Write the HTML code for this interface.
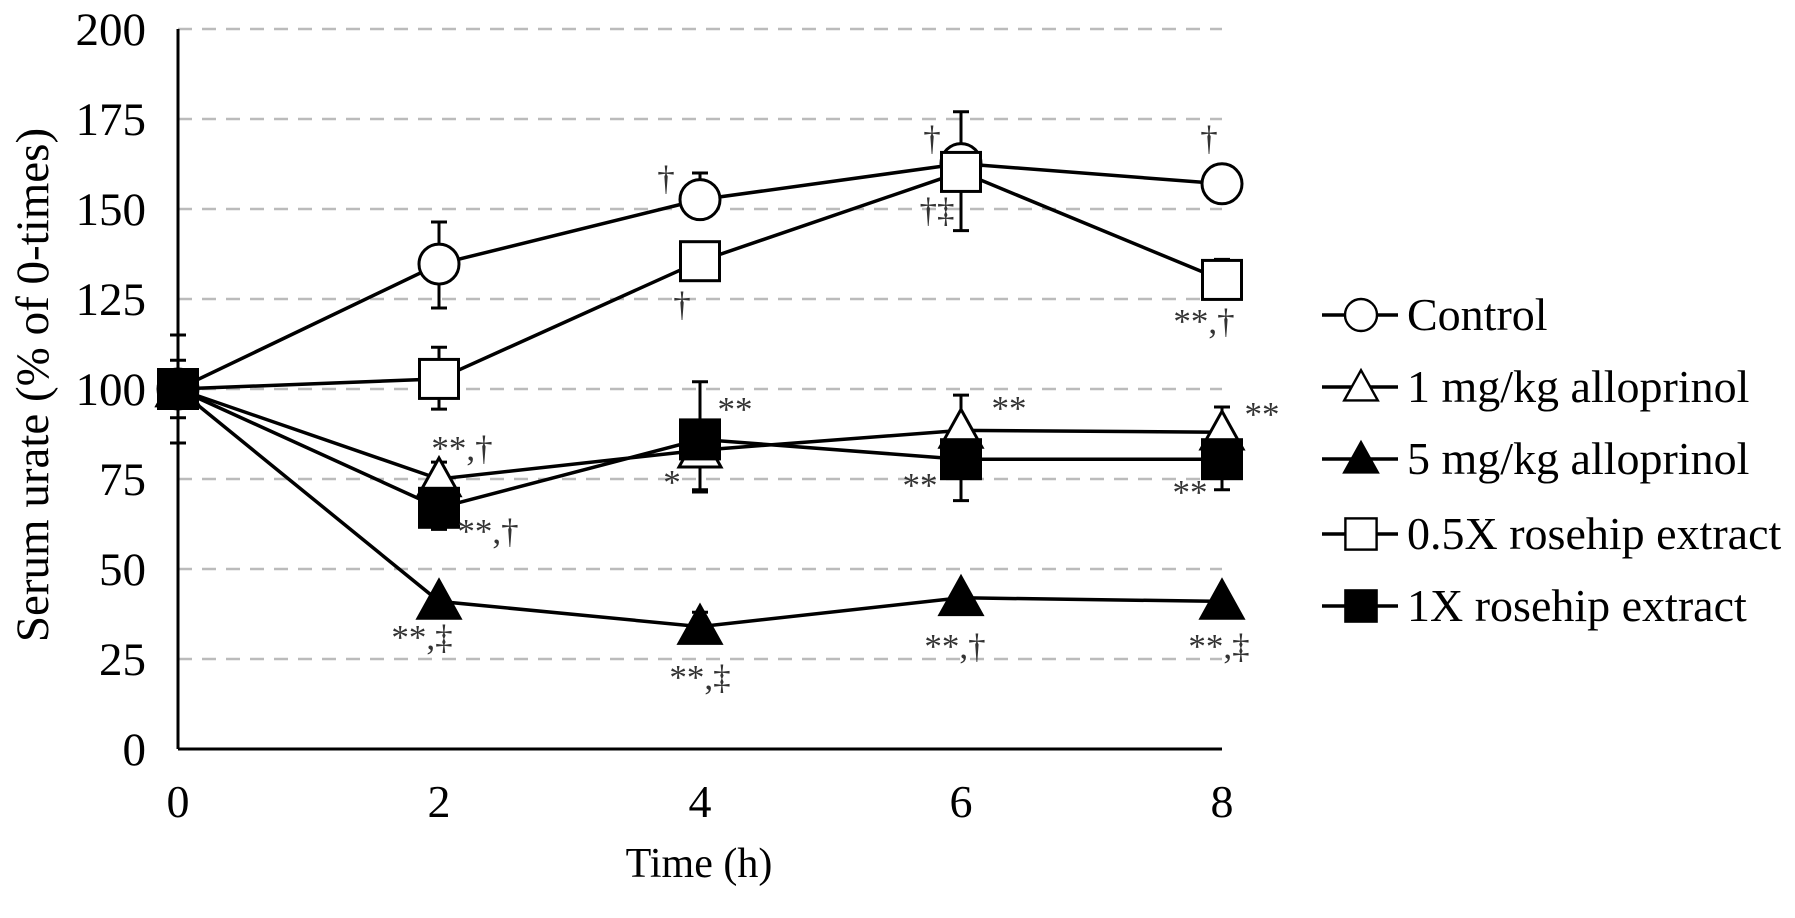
<!DOCTYPE html>
<html><head><meta charset="utf-8"><style>
html,body{margin:0;padding:0;background:#fff;}
svg{display:block;font-family:"Liberation Serif",serif;}
</style></head><body>
<svg id="chart" width="1795" height="918" viewBox="0 0 1795 918" xmlns="http://www.w3.org/2000/svg">
<g id="grid"></g>
<g id="axes"></g>
<g id="series"></g>
<g id="notes" font-size="35" fill="#333" text-anchor="middle"></g>
<g id="legend"></g>
<text x="699" y="877" font-size="42" text-anchor="middle">Time (h)</text>
<text transform="translate(48,385) rotate(-90)" font-size="47" text-anchor="middle">Serum urate (% of 0-times)</text>
</svg>
<script>
const times = [0, 2, 4, 6, 8];
const yTicks = [0, 25, 50, 75, 100, 125, 150, 175, 200];
const xTicks = [0, 2, 4, 6, 8];
const seriesNames = ["Control", "1 mg/kg alloprinol", "5 mg/kg alloprinol", "0.5X rosehip extract", "1X rosehip extract"];
const markers = ["circle", "tri-open", "tri-fill", "sq-open", "sq-fill"];
const controlVals = [100, 134.7, 152.6, 162.6, 157];
const allo1Vals = [100, 75, 83, 88.5, 88];
const allo5Vals = [100, 41, 34, 42, 41];
const rose05Vals = [100, 102.8, 135.5, 160.3, 130.3];
const rose1Vals = [100, 67, 86, 80.5, 80.5];
const controlErrUp = [115, 146.4, 160, 177, 157];
const controlErrDn = [85, 122.5, 152.6, 162.6, 157];
const allo1ErrUp = [100, 79.7, 83, 98.3, 95];
const allo1ErrDn = [100, 75, 72, 88.5, 88];
const allo5ErrUp = [100, 41, 38, 42, 41];
const allo5ErrDn = [100, 41, 34, 42, 41];
const rose05ErrUp = [100, 111.6, 135.5, 160.3, 136];
const rose05ErrDn = [100, 94.4, 135.5, 144, 130.3];
const rose1ErrUp = [108, 67, 102, 80.5, 80.5];
const rose1ErrDn = [92, 61, 71.4, 69, 72];

const allVals = [controlVals, allo1Vals, allo5Vals, rose05Vals, rose1Vals];
const allUp = [controlErrUp, allo1ErrUp, allo5ErrUp, rose05ErrUp, rose1ErrUp];
const allDn = [controlErrDn, allo1ErrDn, allo5ErrDn, rose05ErrDn, rose1ErrDn];

const X0 = 178, X1 = 1222, Y0 = 749, Y1 = 29;
const xs = t => X0 + (t / 8) * (X1 - X0);
const ys = v => Y0 - (v / 200) * (Y0 - Y1);
const NS = "http://www.w3.org/2000/svg";
function mk(tag, attrs, parent) {
  const e = document.createElementNS(NS, tag);
  for (const k in attrs) e.setAttribute(k, attrs[k]);
  parent.appendChild(e);
  return e;
}
const grid = document.getElementById('grid');
const axes = document.getElementById('axes');
const ser = document.getElementById('series');
const notes = document.getElementById('notes');
const legend = document.getElementById('legend');

yTicks.forEach(v => {
  if (v > 0) {
    const g = mk('line', {x1: X0, x2: X1, y1: ys(v), y2: ys(v), stroke: '#bbb', 'stroke-width': 2.5, 'stroke-dasharray': '14 10'}, grid);
    
    
  }
  const t = mk('text', {x: 146, y: ys(v) + 16, 'font-size': 47, 'text-anchor': 'end'}, axes);
  t.textContent = v;
  
  
});
xTicks.forEach(v => {
  const t = mk('text', {x: xs(v), y: 817, 'font-size': 46, 'text-anchor': 'middle'}, axes);
  t.textContent = v;
  
  
});
const ya = mk('line', {x1: X0, x2: X0, y1: Y1, y2: Y0, stroke: '#000', 'stroke-width': 3}, axes);


const xa = mk('line', {x1: X0, x2: X1, y1: Y0, y2: Y0, stroke: '#000', 'stroke-width': 3}, axes);



function marker(kind, cx, cy, parent) {
  let e;
  if (kind === 'circle') e = mk('circle', {cx, cy, r: 20, fill: '#fff', stroke: '#000', 'stroke-width': 3}, parent);
  else if (kind.startsWith('tri')) {
    const s = 21;
    e = mk('polygon', {points: `${cx},${cy - s} ${cx - s},${cy + s * 0.8} ${cx + s},${cy + s * 0.8}`, fill: kind === 'tri-fill' ? '#000' : '#fff', stroke: '#000', 'stroke-width': 3}, parent);
  } else {
    e = mk('rect', {x: cx - 19.5, y: cy - 19.5, width: 39, height: 39, fill: kind === 'sq-fill' ? '#000' : '#fff', stroke: '#000', 'stroke-width': 3}, parent);
  }
  return e;
}

allVals.forEach((vals, si) => {
  const g = mk('g', {}, ser);
  
  
  times.forEach((t, i) => {
    const up = allUp[si][i], dn = allDn[si][i];
    if (up !== dn) {
      const eb = mk('path', {d: `M${xs(t)},${ys(up)}V${ys(dn)}M${xs(t) - 8},${ys(up)}h16M${xs(t) - 8},${ys(dn)}h16`, stroke: '#000', 'stroke-width': 3, fill: 'none'}, g);
      
      
    }
  });
  const pl = mk('polyline', {points: times.map((t, i) => xs(t) + ',' + ys(vals[i])).join(' '), fill: 'none', stroke: '#000', 'stroke-width': 3.5}, g);
  
  
});
allVals.forEach((vals, si) => {
  times.forEach((t, i) => {
    const m = marker(markers[si], xs(t), ys(vals[i]), ser);
    
    
  });
});

const noteText = ["†","†","**,†","**","*","**,†","**,‡","**,‡","†","†","†‡","**,†","**","**","**","**","**,†","**,‡"];
const noteX = [666,682,462,735,672,488,422,700,932,1209,937,1204,1009,1262,920,1190,955,1219];
const noteY = [190,316,460,421,494,543,649,689,150,150,222,333,420,426,497,504,658,658];
noteText.forEach((s, i) => {
  const t = mk('text', {x: noteX[i], y: noteY[i]}, notes);
  t.textContent = s;
  
  
});

const legY = [315, 387, 459, 534, 606];
seriesNames.forEach((n, i) => {
  const g = mk('g', {}, legend);
  
  
  mk('line', {x1: 1322, x2: 1398, y1: legY[i], y2: legY[i], stroke: '#000', 'stroke-width': 3.5}, g);
  const mm = marker(markers[i], 1361, legY[i], g);
  mm.setAttribute('transform', `translate(${1361 * 0.2},${legY[i] * 0.2}) scale(0.8)`);
  const t = mk('text', {x: 1407, y: legY[i] + 15, 'font-size': 46}, g);
  t.textContent = n;
});
</script>
</body></html>
